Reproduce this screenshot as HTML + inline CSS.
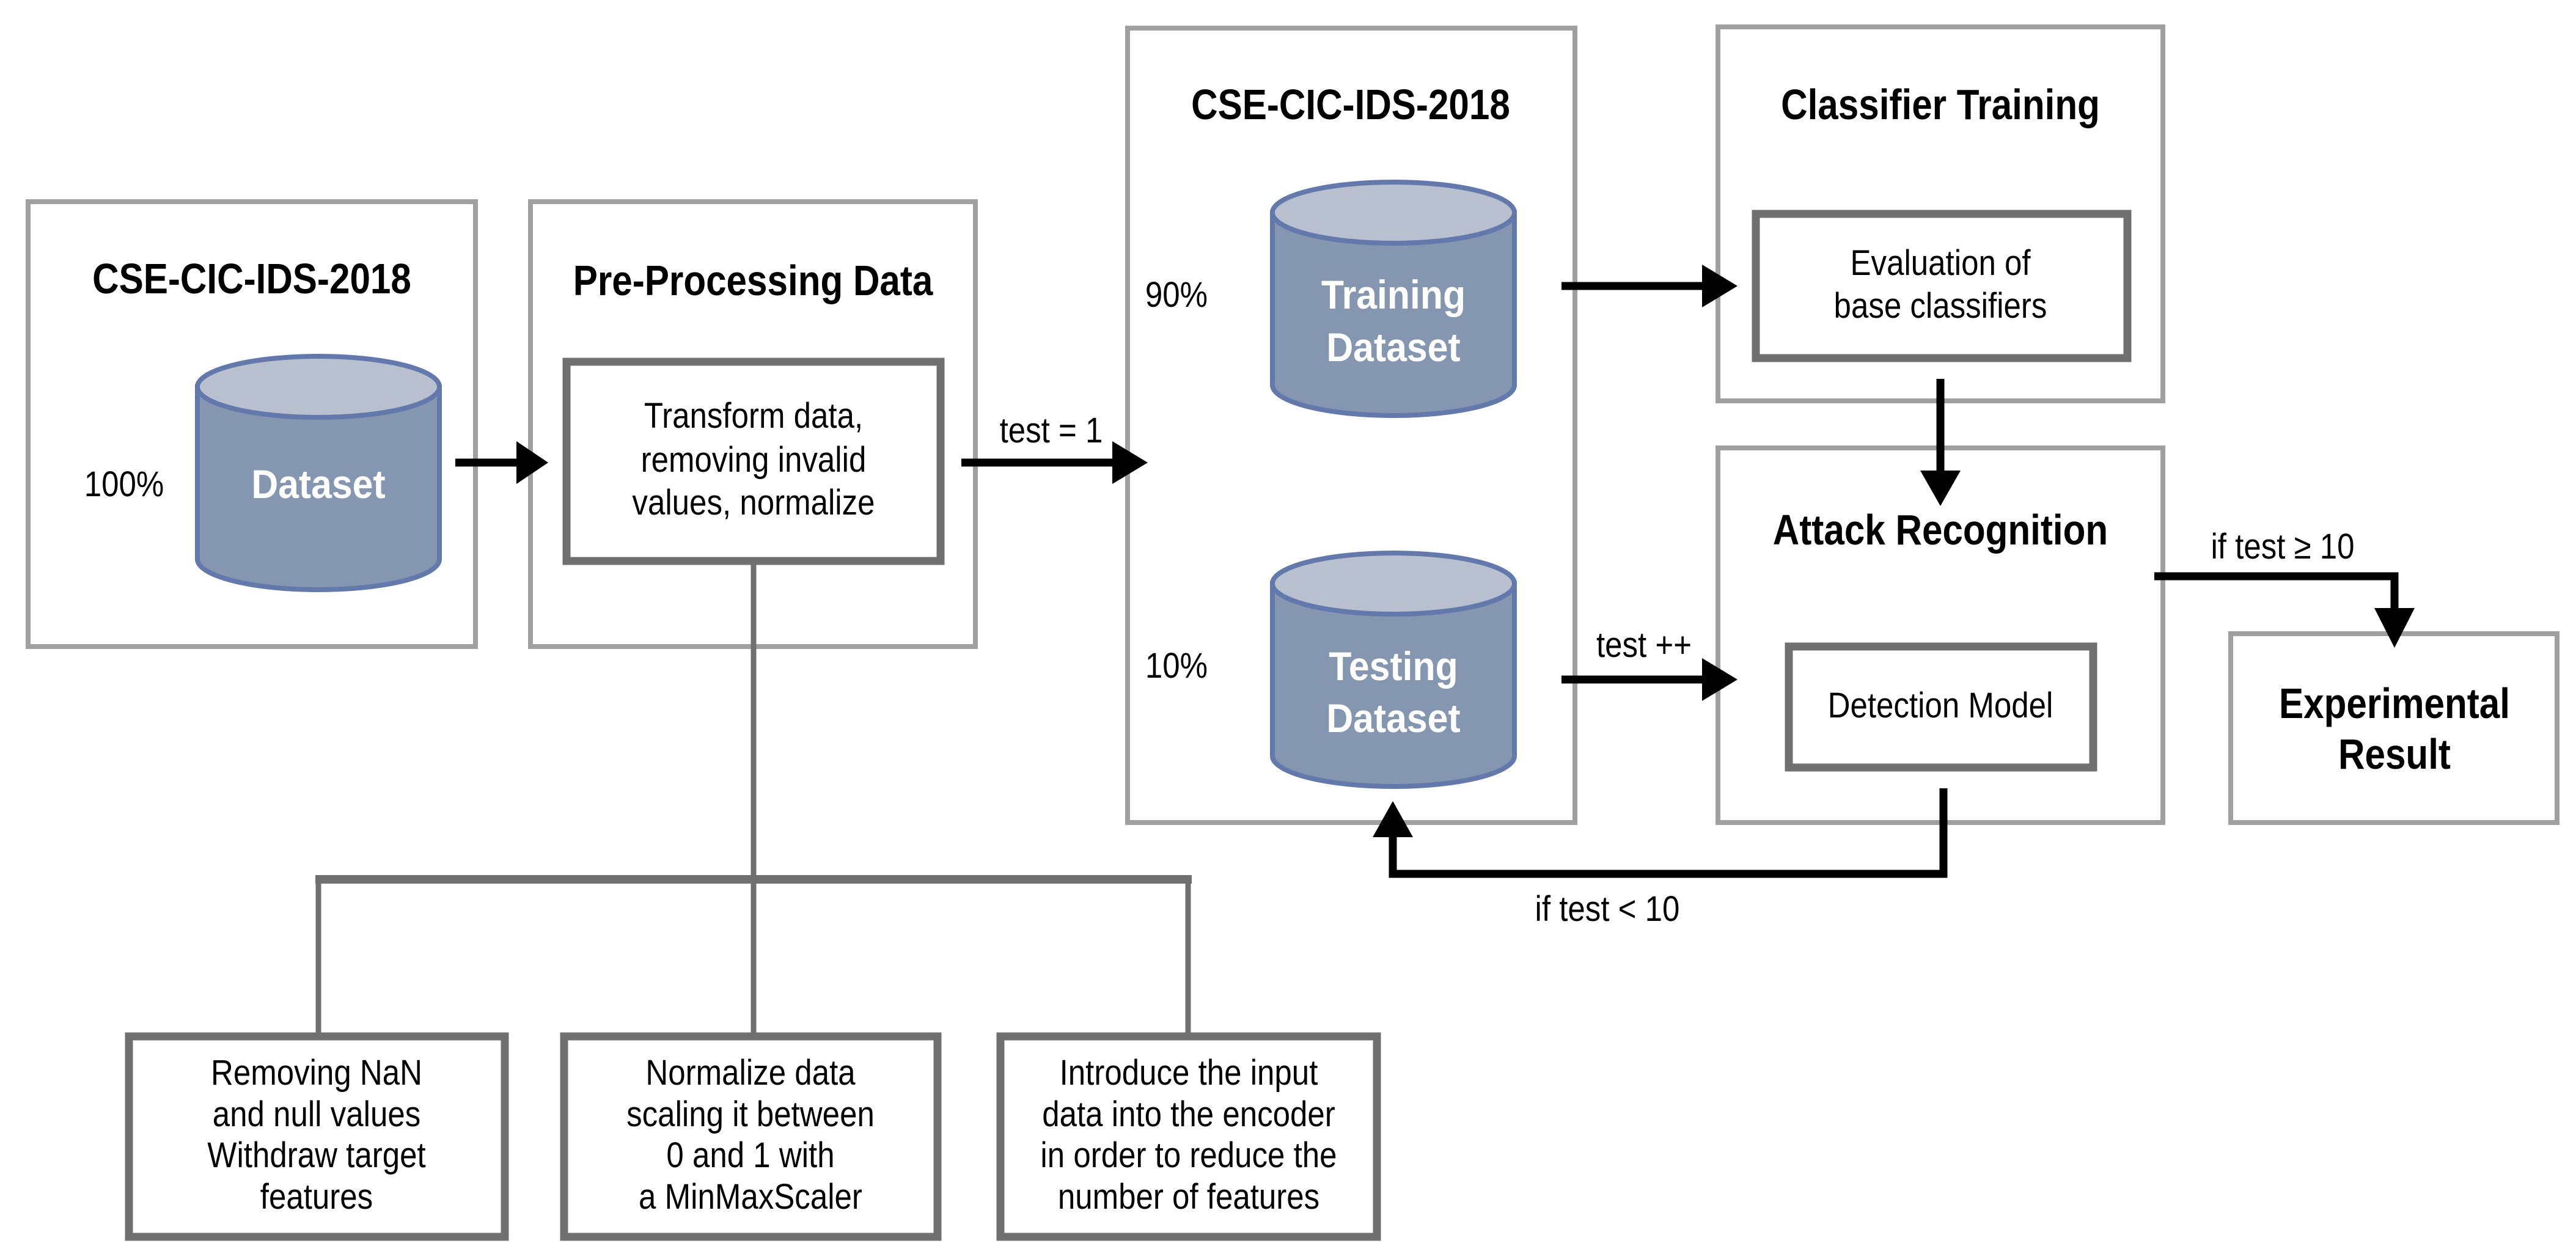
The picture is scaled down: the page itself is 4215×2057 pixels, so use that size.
<!DOCTYPE html>
<html><head><meta charset="utf-8"><style>
html,body{margin:0;padding:0;background:#fff;}
svg{display:block;}
text{font-family:"Liberation Sans",sans-serif;transform-box:fill-box;transform-origin:center;}
.t{font-weight:bold;font-size:70px;fill:#000;text-anchor:middle;transform:scaleX(0.86);}
.n{font-size:58px;fill:#000;text-anchor:middle;transform:scaleX(0.88);}
.c{font-weight:bold;font-size:66px;fill:#fff;text-anchor:middle;transform:scaleX(0.92);}
</style></head><body>
<svg width="4215" height="2057" viewBox="0 0 4215 2057" xmlns="http://www.w3.org/2000/svg">
<g fill="none" stroke="#a0a0a0" stroke-width="8">
<rect x="46" y="330" width="732" height="728"/>
<rect x="868" y="330" width="728" height="728"/>
<rect x="1845" y="46" width="732" height="1300"/>
<rect x="2811" y="44" width="728" height="612"/>
<rect x="2811" y="733" width="728" height="613"/>
<rect x="3650" y="1037" width="534" height="309"/>
</g>
<g fill="none" stroke="#707070" stroke-width="13">
<rect x="927" y="592" width="612" height="326"/>
<rect x="2873" y="350" width="608" height="236"/>
<rect x="2927" y="1058" width="498" height="198"/>
<rect x="211" y="1696" width="615" height="328"/>
<rect x="923" y="1696" width="611" height="328"/>
<rect x="1637" y="1696" width="616" height="328"/>
</g>
<g stroke="#707070" fill="none">
<line x1="1233" y1="918" x2="1233" y2="1696" stroke-width="9"/>
<polyline points="521,1696 521,1439 1944,1439 1944,1696" stroke-width="9"/>
<line x1="516" y1="1439" x2="1950" y2="1439" stroke-width="14"/>
</g>
<g stroke="#6479ab" stroke-width="8">
<path d="M323,633 L323,915 A198,50 0 0 0 719,915 L719,633 Z" fill="#8496b0"/>
<ellipse cx="521" cy="633" rx="198" ry="50" fill="#b8c0d0"/>
<path d="M2082,348 L2082,630 A198,50 0 0 0 2478,630 L2478,348 Z" fill="#8496b0"/>
<ellipse cx="2280" cy="348" rx="198" ry="50" fill="#b8c0d0"/>
<path d="M2082,955 L2082,1237 A198,50 0 0 0 2478,1237 L2478,955 Z" fill="#8496b0"/>
<ellipse cx="2280" cy="955" rx="198" ry="50" fill="#b8c0d0"/>
</g>
<g stroke="#000" stroke-width="13" fill="none">
<line x1="745" y1="757" x2="860" y2="757"/>
<line x1="1573" y1="757" x2="1835" y2="757"/>
<line x1="2555" y1="468" x2="2800" y2="468"/>
<line x1="2555" y1="1112" x2="2800" y2="1112"/>
<line x1="3175" y1="620" x2="3175" y2="780"/>
<polyline points="3180,1290 3180,1430 2279,1430 2279,1355"/>
<polyline points="3525,943 3918,943 3918,1000"/>
</g>
<g fill="#000">
<polygon points="845,722 897,757 845,792"/>
<polygon points="1820,722 1878,757 1820,792"/>
<polygon points="2785,433 2843,468 2785,503"/>
<polygon points="2785,1077 2843,1112 2785,1147"/>
<polygon points="3142,770 3175,828 3208,770"/>
<polygon points="2246,1370 2279,1311 2312,1370"/>
<polygon points="3885,995 3918,1060 3951,995"/>
</g>
<text class="t" x="412" y="480">CSE-CIC-IDS-2018</text>
<text class="t" x="1232" y="483">Pre-Processing Data</text>
<text class="t" x="2210" y="195">CSE-CIC-IDS-2018</text>
<text class="t" x="3175" y="195">Classifier Training</text>
<text class="t" x="3175" y="891">Attack Recognition</text>
<text class="t" x="3918" y="1175">Experimental</text>
<text class="t" x="3918" y="1258">Result</text>
<text class="n" x="203" y="812">100%</text>
<text class="n" x="1925" y="502">90%</text>
<text class="n" x="1925" y="1109">10%</text>
<text class="c" x="521" y="815">Dataset</text>
<text class="c" x="2280" y="505">Training</text>
<text class="c" x="2280" y="591">Dataset</text>
<text class="c" x="2280" y="1113">Testing</text>
<text class="c" x="2280" y="1198">Dataset</text>
<text class="n" x="1233" y="700">Transform data,</text>
<text class="n" x="1233" y="772">removing invalid</text>
<text class="n" x="1233" y="842">values, normalize</text>
<text class="n" x="1720" y="724">test = 1</text>
<text class="n" x="3175" y="450">Evaluation of</text>
<text class="n" x="3175" y="520">base classifiers</text>
<text class="n" x="3175" y="1174">Detection Model</text>
<text class="n" x="2690" y="1075">test ++</text>
<text class="n" x="3735" y="914">if test ≥ 10</text>
<text class="n" x="2630" y="1507">if test &lt; 10</text>
<text class="n" x="518" y="1775">Removing NaN</text>
<text class="n" x="518" y="1843">and null values</text>
<text class="n" x="518" y="1910">Withdraw target</text>
<text class="n" x="518" y="1978">features</text>
<text class="n" x="1228" y="1775">Normalize data</text>
<text class="n" x="1228" y="1843">scaling it between</text>
<text class="n" x="1228" y="1910">0 and 1 with</text>
<text class="n" x="1228" y="1978">a MinMaxScaler</text>
<text class="n" x="1945" y="1775">Introduce the input</text>
<text class="n" x="1945" y="1843">data into the encoder</text>
<text class="n" x="1945" y="1910">in order to reduce the</text>
<text class="n" x="1945" y="1978">number of features</text>
</svg>
</body></html>
